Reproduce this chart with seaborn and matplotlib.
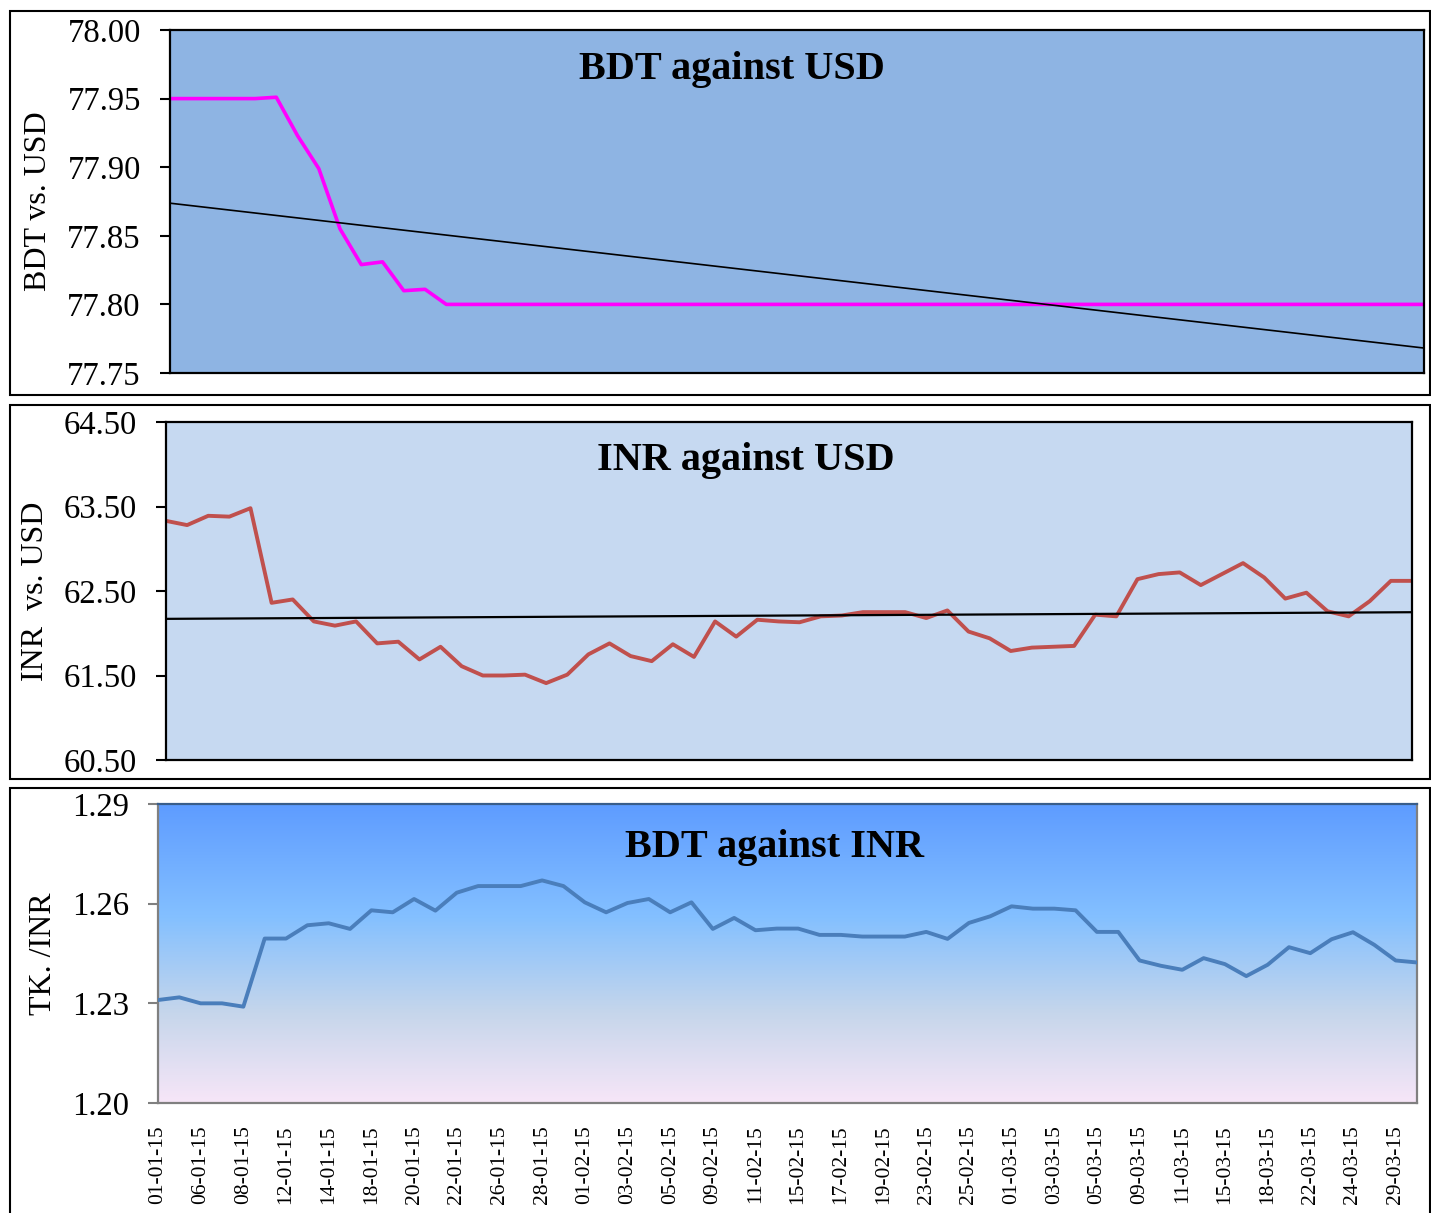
import numpy as np
import pandas as pd
import seaborn as sns
import matplotlib.pyplot as plt
from matplotlib.patches import Rectangle
from matplotlib.colors import LinearSegmentedColormap
from matplotlib.ticker import FormatStrFormatter

# Values (one value per trading day, 60 days)
bdt_usd = [77.95, 77.95, 77.95, 77.95, 77.95, 77.951, 77.923, 77.899, 77.855, 77.829,
           77.831, 77.810, 77.811] + [77.80] * 47

inr_usd = [63.33, 63.28, 63.39, 63.38, 63.48, 62.36, 62.40, 62.14, 62.09, 62.14,
           61.88, 61.90, 61.69, 61.84, 61.61, 61.50, 61.50, 61.51, 61.41, 61.51,
           61.75, 61.88, 61.73, 61.67, 61.87, 61.72, 62.14, 61.96, 62.16, 62.14,
           62.13, 62.20, 62.21, 62.25, 62.25, 62.25, 62.18, 62.27, 62.02, 61.94,
           61.79, 61.83, 61.84, 61.85, 62.22, 62.20, 62.64, 62.70, 62.72, 62.57,
           62.70, 62.83, 62.66, 62.41, 62.48, 62.26, 62.20, 62.38, 62.62, 62.62]

bdt_inr = [1.2310, 1.2318, 1.2300, 1.2300, 1.2290, 1.2495, 1.2495, 1.2535, 1.2541, 1.2524,
           1.2580, 1.2574, 1.2614, 1.2579, 1.2633, 1.2653, 1.2653, 1.2653, 1.2670, 1.2653,
           1.2604, 1.2574, 1.2602, 1.2614, 1.2574, 1.2604, 1.2524, 1.2557, 1.2520, 1.2525,
           1.2525, 1.2506, 1.2506, 1.2501, 1.2501, 1.2501, 1.2515, 1.2494, 1.2542, 1.2562,
           1.2592, 1.2585, 1.2585, 1.2580, 1.2515, 1.2515, 1.2429, 1.2413, 1.2401, 1.2436,
           1.2418, 1.2382, 1.2416, 1.2469, 1.2451, 1.2493, 1.2514, 1.2476, 1.2429, 1.2423]

# every second day is labelled on the bottom axis
date_labels = ["01-01-15", "06-01-15", "08-01-15", "12-01-15", "14-01-15", "18-01-15",
               "20-01-15", "22-01-15", "26-01-15", "28-01-15", "01-02-15", "03-02-15",
               "05-02-15", "09-02-15", "11-02-15", "15-02-15", "17-02-15", "19-02-15",
               "23-02-15", "25-02-15", "01-03-15", "03-03-15", "05-03-15", "09-03-15",
               "11-03-15", "15-03-15", "18-03-15", "22-03-15", "24-03-15", "29-03-15"]

df = pd.DataFrame({"day": np.arange(len(bdt_inr)), "bdt_usd": bdt_usd,
                   "inr_usd": inr_usd, "bdt_inr": bdt_inr})

sns.set_style("white")
plt.rcParams["font.family"] = ["Liberation Serif", "DejaVu Serif"]
plt.rcParams["text.color"] = "black"
plt.rcParams["axes.labelcolor"] = "black"
plt.rcParams["xtick.color"] = "black"
plt.rcParams["ytick.color"] = "black"

W, H = 1431, 1213
fig = plt.figure(figsize=(W / 100, H / 100), dpi=100)


def box(l, t, r, b):
    return [l / W, 1 - b / H, (r - l) / W, (b - t) / H]


# outer chart frames
for l, t, r, b in [(10, 11, 1430, 395), (10, 405, 1430, 779), (10, 788, 1430, 1220)]:
    fig.add_artist(Rectangle((l / W, 1 - b / H), (r - l) / W, (b - t) / H,
                             transform=fig.transFigure, fill=False, ec="black", lw=1.5))


def style_axis(ax, ylo, yhi, ticks, label, spine_col="black"):
    ax.set_xlim(0, len(df) - 1)
    ax.set_ylim(ylo, yhi)
    ax.set_yticks(ticks)
    ax.yaxis.set_major_formatter(FormatStrFormatter("%.2f"))
    ax.set_ylabel(label, fontsize=23, labelpad=10)
    ax.set_xlabel("")
    for s in ax.spines.values():
        s.set_visible(True)
        s.set_color(spine_col)
        s.set_linewidth(1.6)
    ax.tick_params(axis="y", direction="out", length=7, width=1.5, colors=spine_col,
                   labelcolor="black", labelsize=23.5, pad=14, left=True)


# ---- BDT against USD ----
ax1 = fig.add_axes(box(170, 30, 1424, 373))
ax1.set_facecolor("#8EB4E3")
sns.lineplot(data=df, x="day", y="bdt_usd", color="#FF00FF", lw=2.6, ax=ax1)
sns.regplot(data=df, x="day", y="bdt_usd", scatter=False, ci=None, truncate=True,
            line_kws=dict(color="black", lw=1.2), ax=ax1)
style_axis(ax1, 77.75, 78.00, [77.75, 77.80, 77.85, 77.90, 77.95, 78.00], "BDT vs. USD")
ax1.set_xticks([])
ax1.text(0.448, 0.885, "BDT against USD", transform=ax1.transAxes, ha="center",
         va="center", fontsize=29, fontweight="bold")

# ---- INR against USD ----
ax2 = fig.add_axes(box(166, 422, 1412, 760))
ax2.set_facecolor("#C6D9F1")
sns.lineplot(data=df, x="day", y="inr_usd", color="#C0504D", lw=2.8, ax=ax2)
sns.regplot(data=df, x="day", y="inr_usd", scatter=False, ci=None, truncate=True,
            line_kws=dict(color="black", lw=1.6), ax=ax2)
style_axis(ax2, 60.5, 64.5, [60.5, 61.5, 62.5, 63.5, 64.5], "INR  vs. USD")
ax2.set_xticks([])
ax2.text(0.465, 0.885, "INR against USD", transform=ax2.transAxes, ha="center",
         va="center", fontsize=29, fontweight="bold")

# ---- BDT against INR ----
ax3 = fig.add_axes(box(158, 804, 1417, 1103))
grad = LinearSegmentedColormap.from_list(
    "sky", [(0.0, "#F7E6F8"), (0.30, "#C6D6EB"), (0.62, "#84C0FF"), (1.0, "#5E9CFF")])
ax3.imshow(np.linspace(0, 1, 256).reshape(-1, 1)[::-1], cmap=grad, aspect="auto",
           extent=[0, 1, 0, 1], transform=ax3.transAxes, zorder=0)
sns.lineplot(data=df, x="day", y="bdt_inr", color="#4A7EBB", lw=2.8, ax=ax3, zorder=3)
style_axis(ax3, 1.20, 1.29, [1.20, 1.23, 1.26, 1.29], "TK. /INR", spine_col="#808080")
ax3.spines["top"].set_color("#385D8A")
ax3.set_xticks(df["day"][::2])
ax3.set_xticklabels(date_labels, rotation=90, fontsize=15.5)
ax3.tick_params(axis="x", length=0, pad=16)
ax3.text(0.49, 0.853, "BDT against INR", transform=ax3.transAxes, ha="center",
         va="center", fontsize=29, fontweight="bold")

fig.savefig("out.png", dpi=100)
